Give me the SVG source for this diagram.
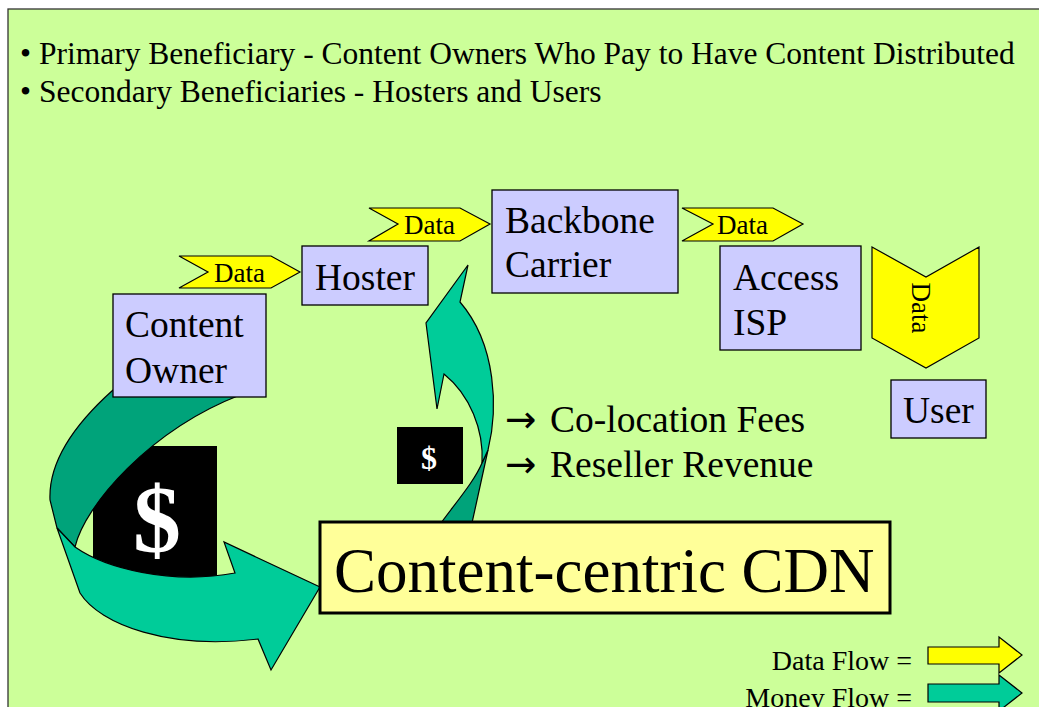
<svg xmlns="http://www.w3.org/2000/svg" width="1039" height="707" viewBox="0 0 1039 707">
  <style>
    .serif { font-family: "Liberation Serif", "Times New Roman", serif; fill: #000; }
    .head { font-size: 31.5px; }
    .node rect { fill: #ccccff; stroke: #000; stroke-width: 1.3; }
    .label { font-size: 37.5px; }
    .arrow-glyph { font-family: "DejaVu Sans", sans-serif; }
    .data { fill: #ffff00; stroke: #000; stroke-width: 1.2; stroke-linejoin: miter; }
    .dtext { font-size: 27px; }
    .money { fill: #00cc99; stroke: #000; stroke-width: 1.2; }
    .money-back { fill: #00a37a; stroke: #000; stroke-width: 1.2; }
    .cash { fill: #000; }
    .cash-sign { font-family: "Liberation Serif", "Times New Roman", serif; font-weight: bold; fill: #fff; text-anchor: middle; }
  </style>

  <!-- slide background -->
  <rect x="0" y="0" width="1039" height="707" fill="#ffffff"/>
  <rect x="8" y="9" width="1040" height="710" fill="#ccff99" stroke="#333" stroke-width="1.3"/>

  <!-- heading bullets -->
  <g id="heading">
    <text class="serif head" x="20" y="64">•</text>
    <text class="serif head" x="39" y="64">Primary Beneficiary - Content Owners Who Pay to Have Content Distributed</text>
    <text class="serif head" x="20" y="102">•</text>
    <text class="serif head" x="39" y="102">Secondary Beneficiaries - Hosters and Users</text>
  </g>

  <!-- cash tiles -->
  <g id="cash-large">
    <rect class="cash" x="93" y="446" width="124" height="132"/>
    <text class="cash-sign" x="157" y="552" font-size="96">$</text>
  </g>
  <g id="cash-small">
    <rect class="cash" x="397" y="427" width="66" height="57"/>
    <text class="cash-sign" x="429" y="469" font-size="32">$</text>
  </g>

  <g id="connectors">
    <!-- money flow: content owner to CDN -->
    <path class="money-back" d="M 113,390 C 85,415 48,455 50,500 L 57,528 L 75,547 C 85,505 150,430 240,395 Z"/>
    <path class="money" d="M 57,528 L 75,547 C 105,568 170,585 235,573 L 224,542 L 320,587 L 271,670 L 258,639 C 170,650 100,625 80,593 Z"/>
    <!-- money flow: CDN to hoster -->
    <path class="money-back" d="M 488,450 L 472,523 L 441,523 C 458,500 475,480 482,463 Z"/>
    <path class="money" d="M 488,450 C 498,410 497,345 460,302 L 468,265 L 426,323 L 437,409 L 444,374 C 470,395 484,430 482,463 Z"/>

    <!-- data flow chevrons -->
    <g id="data-owner-hoster">
      <path class="data" d="M 179,256 L 271,256 L 300,272 L 271,288 L 179,288 L 208,272 Z"/>
      <text class="serif dtext" x="214" y="282">Data</text>
    </g>
    <g id="data-hoster-backbone">
      <path class="data" d="M 369,208 L 460,208 L 490,224 L 460,241 L 369,241 L 398,224 Z"/>
      <text class="serif dtext" x="404" y="234">Data</text>
    </g>
    <g id="data-backbone-access">
      <path class="data" d="M 682,208 L 773,208 L 803,224 L 773,241 L 682,241 L 713,224 Z"/>
      <text class="serif dtext" x="717" y="234">Data</text>
    </g>
    <g id="data-access-user">
      <path class="data" d="M 872,247 L 926,277 L 979,247 L 979,338 L 926,368 L 872,338 Z"/>
      <text class="serif dtext" text-anchor="middle" transform="translate(912,308) rotate(90)">Data</text>
    </g>
  </g>

  <!-- nodes -->
  <g id="content-owner" class="node">
    <rect x="113" y="294" width="153" height="103"/>
    <text class="serif label" x="125" y="337">Content</text>
    <text class="serif label" x="125" y="383">Owner</text>
  </g>
  <g id="hoster" class="node">
    <rect x="302" y="246" width="126" height="59"/>
    <text class="serif label" x="315" y="290">Hoster</text>
  </g>
  <g id="backbone-carrier" class="node">
    <rect x="492" y="190" width="186" height="103"/>
    <text class="serif label" x="505" y="233">Backbone</text>
    <text class="serif label" x="505" y="277">Carrier</text>
  </g>
  <g id="access-isp" class="node">
    <rect x="720" y="246" width="141" height="104"/>
    <text class="serif label" x="733" y="290">Access</text>
    <text class="serif label" x="733" y="335">ISP</text>
  </g>
  <g id="user" class="node">
    <rect x="891" y="380" width="95" height="58"/>
    <text class="serif label" x="903" y="423">User</text>
  </g>

  <!-- revenue notes -->
  <g id="revenue">
    <text class="serif label" x="505" y="432"><tspan class="arrow-glyph">→</tspan><tspan x="550">Co-location Fees</tspan></text>
    <text class="serif label" x="505" y="477"><tspan class="arrow-glyph">→</tspan><tspan x="550">Reseller Revenue</tspan></text>
  </g>

  <!-- CDN -->
  <g id="cdn">
    <rect x="320" y="522" width="570" height="91" fill="#ffff99" stroke="#000" stroke-width="3"/>
    <text class="serif" x="334" y="592" font-size="63px">Content-centric CDN</text>
  </g>

  <!-- legend -->
  <g id="legend">
    <text class="serif" x="912" y="670" font-size="28px" text-anchor="end">Data Flow =</text>
    <path class="data" d="M 928,647 L 999,647 L 999,637 L 1022,655 L 999,673 L 999,664 L 928,664 Z"/>
    <text class="serif" x="912" y="707" font-size="28px" text-anchor="end">Money Flow =</text>
    <path class="money" d="M 928,684 L 999,684 L 999,675 L 1022,693 L 999,711 L 999,702 L 928,702 Z"/>
  </g>
</svg>
